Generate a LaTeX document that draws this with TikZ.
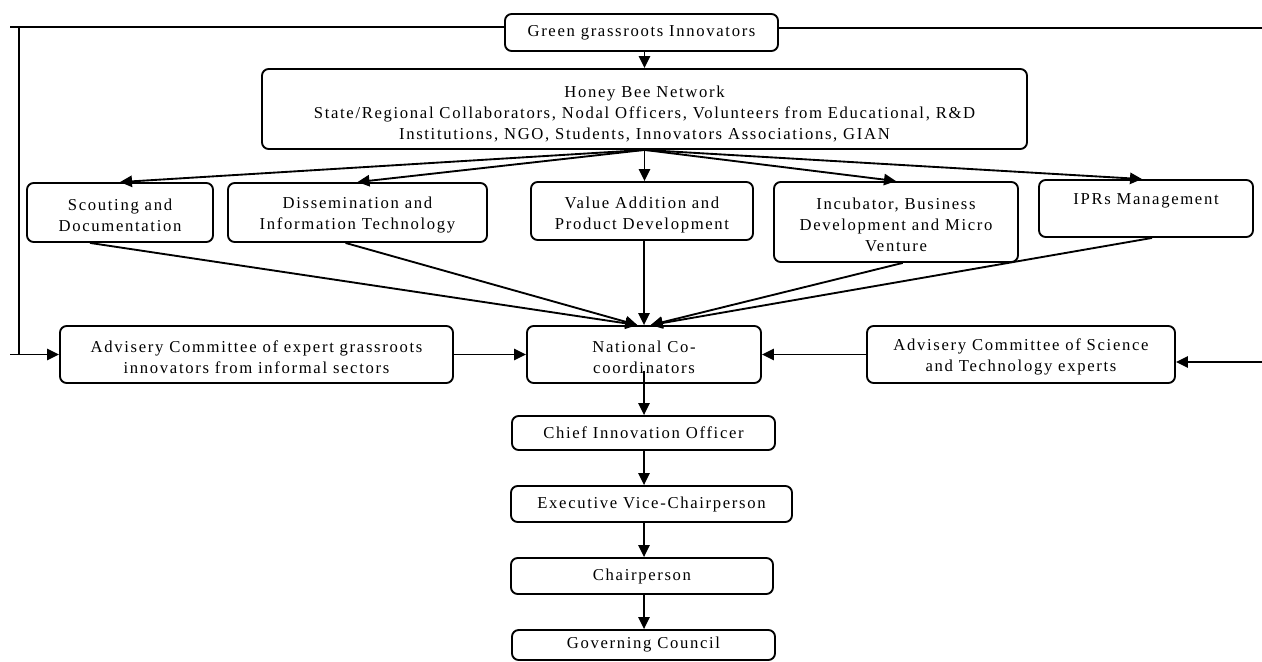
\documentclass[tikz,border=0pt]{standalone}
\usepackage{fontspec}
\setmainfont{Liberation Serif}[LetterSpace=10]
\usetikzlibrary{arrows.meta}
\newcommand{\tallr}[1]{\rule{0pt}{#1}}
\tikzset{
  box/.style={draw, line width=1.4pt, rounded corners=5pt, align=center, inner sep=0pt,
    font=\fontsize{12.5}{15.75}\selectfont},
  conn/.style={line width=1.4pt},
  arr/.style={line width=1.4pt, -{Triangle[length=9pt,width=8.5pt]}},
  thin/.style={line width=1pt}
}
\begin{document}
\begin{tikzpicture}[x=0.75pt,y=-0.75pt]
\useasboundingbox (0,0) rectangle (1262,661);
% nodes
\node[box, minimum width=204.75pt, minimum height=27.75pt] (green) at (641.5,32.5) {Green grassroots Innovators};
\node[box, minimum width=573.75pt, minimum height=60pt] (hb) at (644.5,109) {\tallr{16pt}Honey Bee Network\\State/Regional Collaborators, Nodal Officers, Volunteers from Educational, R\&D\\Institutions, NGO, Students, Innovators Associations, GIAN};
\node[box, minimum width=139.5pt, minimum height=44.25pt] (scout) at (120,212.5) {\tallr{12.5pt}Scouting and\\Documentation};
\node[box, minimum width=194.25pt, minimum height=44.25pt] (diss) at (357.5,212.5) {\tallr{12.5pt}Dissemination and\\Information Technology};
\node[box, minimum width=166.5pt, minimum height=43.5pt] (val) at (642,211) {\tallr{14.5pt}Value Addition and\\Product Development};
\node[box, minimum width=183pt, minimum height=60pt] (inc) at (896,222) {\tallr{12.5pt}Incubator, Business\\Development and Micro\\Venture};
\node[box, minimum width=160.5pt, minimum height=42.75pt] (ipr) at (1146,208.5) {IPRs Management\rule[-14pt]{0pt}{0pt}};
\node[box, minimum width=294.75pt, minimum height=42.75pt] (adv1) at (256.5,354.5) {\tallr{12.5pt}Advisery Committee of expert grassroots\\innovators from informal sectors};
\node[box, minimum width=175.5pt, minimum height=42.75pt] (nat) at (644,354.5) {\tallr{12.5pt}National Co-\\coordinators};
\node[box, minimum width=231pt, minimum height=42.75pt] (adv2) at (1021,354.5) {\tallr{12.5pt}Advisery Committee of Science\\and Technology experts};
\node[box, minimum width=197.25pt, minimum height=25.5pt] (chief) at (643.5,433) {Chief Innovation Officer};
\node[box, minimum width=210.75pt, minimum height=27pt] (exec) at (651.5,504) {Executive Vice-Chairperson};
\node[box, minimum width=196.5pt, minimum height=27pt] (chair) at (642,576) {Chairperson};
\node[box, minimum width=197.25pt, minimum height=22.5pt] (gov) at (643.5,645) {Governing Council};
% free-end coordinates
\coordinate (lt) at (10,27);
\coordinate (ct) at (19,27);
\coordinate (cb) at (19,354.5);
\coordinate (lb) at (10,354.5);
\coordinate (rt) at (1262,28);
\coordinate (rb) at (1262,362);
% top connectors
\draw[arr] (green.south -| hb.north) -- (hb.north);
\draw[conn] (lt) -- (lt -| green.west);
\draw[conn] (ct) -- (cb);
\draw[arr] (lb) -- (adv1.west);
\draw[thin] (rt -| green.east) -- (rt);
\draw[arr] (rb) -- (rb -| adv2.east);
% fan out
\draw[arr] (hb.south) -- (scout.north);
\draw[arr] (hb.south) -- (diss.north);
\draw[arr] (hb.south) -- (hb.south |- val.north);
\draw[arr] (hb.south) -- (inc.north);
\draw[arr] (hb.south) -- ([xshift=-3pt]ipr.north);
% fan in
\draw[arr] ([xshift=-22.5pt]scout.south) -- ([xshift=-5pt]nat.north);
\draw[arr] ([xshift=-9pt]diss.south) -- ([xshift=-5pt]nat.north);
\draw[arr] (val.south -| nat.north) -- (nat.north);
\draw[arr] ([xshift=5pt]inc.south) -- ([xshift=5pt]nat.north);
\draw[arr] ([xshift=4.5pt]ipr.south) -- ([xshift=5pt]nat.north);
% side committees
\draw[arr] (adv1.east) -- (nat.west);
\draw[arr] (adv2.west) -- (nat.east);
% vertical chain
\draw[arr] ([yshift=10pt]nat.south) -- (nat.south |- chief.north);
\draw[arr] (chief.south -| nat.south) -- (nat.south |- exec.north);
\draw[arr] (exec.south -| nat.south) -- (nat.south |- chair.north);
\draw[arr] (chair.south -| nat.south) -- (nat.south |- gov.north);
\end{tikzpicture}
\end{document}
